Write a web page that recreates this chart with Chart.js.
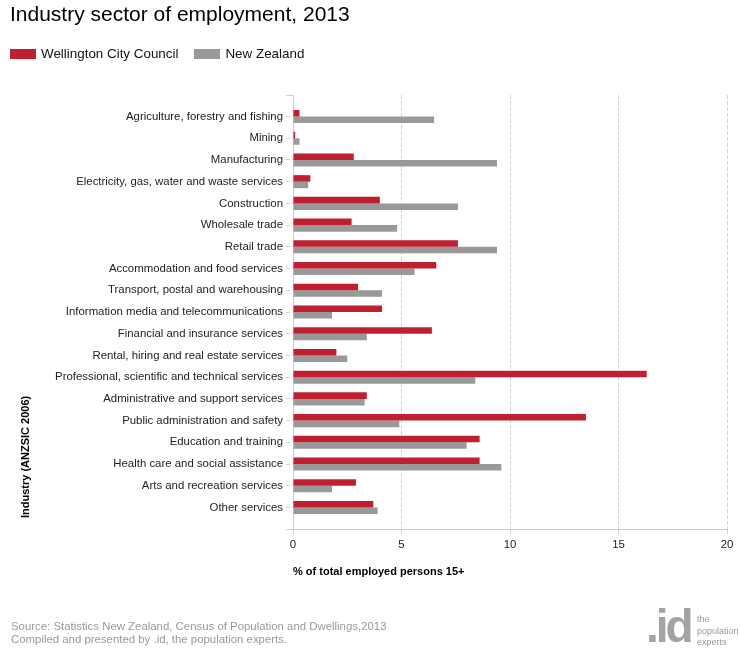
<!DOCTYPE html>
<html>
<head>
<meta charset="utf-8">
<title>Industry sector of employment, 2013</title>
<script src="https://cdn.jsdelivr.net/npm/chart.js@4.4.0/dist/chart.umd.min.js"></script>
<style>
    body { margin: 0; background: #fff; font-family: "Liberation Sans", Arial, sans-serif; }
    #wrap { position: relative; width: 740px; height: 650px; }
    #legend { position: absolute; left: 10px; top: 46px; display: flex; font-size: 13.4px; line-height: 15px; color: #111; }
    .legend-item { display: flex; align-items: center; margin-right: 16px; }
    .legend-box { width: 26px; height: 10px; margin-right: 5px; }
    .footer { position: absolute; left: 11px; top: 620px; font-size: 11.4px; line-height: 13px; color: #999; }
    .logo-mark { position: absolute; left: 646px; top: 603px; font-size: 46px; line-height: 46px; font-weight: bold; color: #a3a3a3; letter-spacing: -3px; }
    .logo-text { position: absolute; left: 697px; top: 614px; font-size: 9px; line-height: 11.5px; color: #999; }
</style>
</head>
<body>
<div id="wrap">
    <canvas id="industryChart"></canvas>
    <div id="legend"></div>
    <div class="footer">Source: Statistics New Zealand, Census of Population and Dwellings,2013<br>Compiled and presented by .id, the population experts.</div>
    <div class="logo-mark">.id</div>
    <div class="logo-text">the<br>population<br>experts</div>
</div>
<script>
// data (% of total employed persons 15+)
const industries = [
    'Agriculture, forestry and fishing',
    'Mining',
    'Manufacturing',
    'Electricity, gas, water and waste services',
    'Construction',
    'Wholesale trade',
    'Retail trade',
    'Accommodation and food services',
    'Transport, postal and warehousing',
    'Information media and telecommunications',
    'Financial and insurance services',
    'Rental, hiring and real estate services',
    'Professional, scientific and technical services',
    'Administrative and support services',
    'Public administration and safety',
    'Education and training',
    'Health care and social assistance',
    'Arts and recreation services',
    'Other services'
];
const wellington = [0.3, 0.1, 2.8, 0.8, 4.0, 2.7, 7.6, 6.6, 3.0, 4.1, 6.4, 2.0, 16.3, 3.4, 13.5, 8.6, 8.6, 2.9, 3.7];
const newZealand = [6.5, 0.3, 9.4, 0.7, 7.6, 4.8, 9.4, 5.6, 4.1, 1.8, 3.4, 2.5, 8.4, 3.3, 4.9, 8.0, 9.6, 1.8, 3.9];
const xTicks = [0, 5, 10, 15, 20];

const chartTitle = 'Industry sector of employment, 2013';
const xAxisTitle = '% of total employed persons 15+';
const yAxisTitle = 'Industry (ANZSIC 2006)';

const fontFamily = '"Liberation Sans", Arial, sans-serif';
const gridColor = '#d2d2d2';
const axisColor = '#cccccc';
const EDGE_PAD = 0.49; // extra room above first / below last category

Chart.defaults.font.family = fontFamily;
Chart.defaults.color = '#222';

// little end caps on the category axis + the rotated axis title
const frameExtras = {
    id: 'frameExtras',
    afterDraw(chart) {
        const { ctx, chartArea } = chart;
        const x0 = Math.round(chartArea.left) + 0.5;
        const top = Math.round(chartArea.top) + 0.5;
        const bottom = Math.round(chartArea.bottom) + 0.5;
        ctx.save();
        ctx.strokeStyle = axisColor;
        ctx.lineWidth = 1;
        ctx.beginPath();
        ctx.moveTo(x0 - 7, top);
        ctx.lineTo(x0, top);
        ctx.moveTo(x0 - 7, bottom);
        ctx.lineTo(x0, bottom);
        ctx.stroke();

        ctx.font = 'bold 11px ' + fontFamily;
        ctx.fillStyle = '#000';
        ctx.translate(26, 518);
        ctx.rotate(-Math.PI / 2);
        ctx.textAlign = 'left';
        ctx.textBaseline = 'middle';
        ctx.fillText(yAxisTitle, 0, 0);
        ctx.restore();
    }
};

const ctx = document.getElementById('industryChart').getContext('2d');
const chart = new Chart(ctx, {
    type: 'bar',
    data: {
        labels: industries,
        datasets: [
            { label: 'Wellington City Council', data: wellington, backgroundColor: '#c01f2f' },
            { label: 'New Zealand', data: newZealand, backgroundColor: '#999999' }
        ]
    },
    options: {
        indexAxis: 'y',
        responsive: true,
        maintainAspectRatio: false,
        animation: false,
        layout: { padding: { left: 10, right: 13, top: 0, bottom: 0 } },
        datasets: {
            bar: { categoryPercentage: 0.6, barPercentage: 1.0, borderWidth: 0 }
        },
        scales: {
            x: {
                min: xTicks[0],
                max: xTicks[xTicks.length - 1],
                ticks: { stepSize: xTicks[1] - xTicks[0], font: { size: 11.4 }, color: '#222', padding: 3 },
                grid: { color: gridColor, tickLength: 6, tickColor: gridColor, tickBorderDash: [4, 2] },
                border: { color: axisColor, dash: [4, 2] },
                title: {
                    display: true, text: xAxisTitle, align: 'start', color: '#000',
                    font: { size: 11, weight: 'bold' }, padding: { top: 0, bottom: 71 }
                },
                afterFit: (scale) => { scale.height = 121; }
            },
            y: {
                offset: true,
                ticks: { font: { size: 11.4 }, color: '#222', padding: 3, autoSkip: false },
                grid: { drawOnChartArea: false, offset: false, tickLength: 7, tickColor: gridColor, tickBorderDash: [4, 2] },
                border: { color: axisColor },
                afterBuildTicks: (scale) => {
                    scale._startValue -= EDGE_PAD;
                    scale._valueRange += 2 * EDGE_PAD;
                },
                afterFit: (scale) => { scale.width = 283; }
            }
        },
        plugins: {
            title: {
                display: true, text: chartTitle, align: 'start', color: '#000',
                font: { size: 21, weight: 'normal' }, padding: { top: 3, bottom: 66.8 }
            },
            legend: { display: false },
            tooltip: { enabled: false }
        }
    },
    plugins: [frameExtras]
});

// html legend built from the datasets
const legendEl = document.getElementById('legend');
chart.data.datasets.forEach(ds => {
    const item = document.createElement('div');
    item.className = 'legend-item';
    item.innerHTML = `<span class="legend-box" style="background:${ds.backgroundColor}"></span><span>${ds.label}</span>`;
    legendEl.appendChild(item);
});
</script>
</body>
</html>
